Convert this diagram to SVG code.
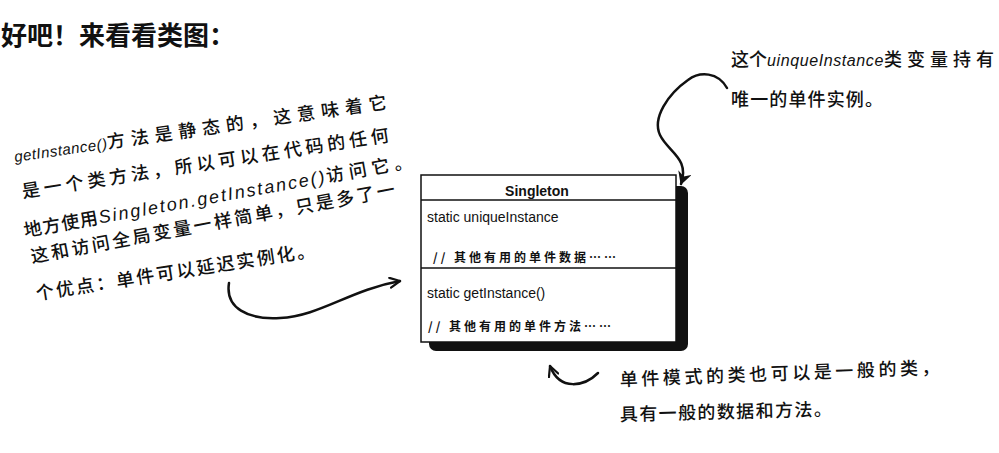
<svg xmlns="http://www.w3.org/2000/svg" width="999" height="453" viewBox="0 0 999 453">
<style>
.title{font-family:"Noto Sans CJK SC","Liberation Sans",sans-serif;font-size:26px;font-weight:700;fill:#111}
.hand{font-family:"Noto Sans CJK SC","Liberation Sans",sans-serif;font-size:18px;font-weight:500;fill:#111}
.lat{font-family:"Liberation Sans","Noto Sans CJK SC",sans-serif;font-style:italic}
.uml{font-family:"Liberation Sans","Noto Sans CJK SC",sans-serif;font-size:14px;fill:#111}
.umlb{font-family:"Liberation Sans",sans-serif;font-size:14px;font-weight:700;fill:#111}
.cmt{font-family:"Noto Sans CJK SC","Liberation Sans",sans-serif;font-size:12px;font-weight:700;fill:#111}
.conn{fill:none;stroke:#111;stroke-width:2.5;stroke-linecap:round}
</style>
<defs>
<marker id="open" viewBox="0 0 12 12" refX="11" refY="6" markerWidth="12" markerHeight="12" markerUnits="userSpaceOnUse" orient="auto">
<path d="M1,1 L11,6 L1,11" fill="none" stroke="#111" stroke-width="2.2" stroke-linecap="round" stroke-linejoin="round"/>
</marker>
<marker id="filled" viewBox="0 0 14 14" refX="12" refY="7" markerWidth="14" markerHeight="14" markerUnits="userSpaceOnUse" orient="auto">
<path d="M0,0 L13,7 L0,14 L4,7 Z" fill="#111"/>
</marker>
</defs>
<rect width="999" height="453" fill="#fff"/>
<g id="title"><text class="title" x="1" y="45">好吧！来看看类图：</text></g>

<g id="note-left">
<text class="hand" x="15" y="162" transform="rotate(-8.2 15 162)"><tspan class="lat" font-size="15" letter-spacing="0.5">getInstance()</tspan><tspan letter-spacing="6">方法是静态的，这意味着它</tspan></text>
<text class="hand" x="23" y="198" textLength="371" transform="rotate(-8.8 23 198)">是一个类方法，所以可以在代码的任何</text>
<text class="hand" x="25" y="237" transform="rotate(-10.2 25 237)"><tspan letter-spacing="1">地方使用</tspan><tspan class="lat" font-size="18" letter-spacing="2">Singleton.getInstance()</tspan><tspan letter-spacing="5">访问它。</tspan></text>
<text class="hand" x="32" y="263" textLength="370" transform="rotate(-10.5 32 263)">这和访问全局变量一样简单，只是多了一</text>
<text class="hand" x="37" y="300" textLength="282" transform="rotate(-8.9 37 300)">个优点：单件可以延迟实例化。</text>
</g>

<g id="note-top">
<text class="hand" x="731" y="66" font-size="17">这个<tspan class="lat" font-size="16" letter-spacing="0.6">uinqueInstance</tspan><tspan letter-spacing="5">类变量持有</tspan></text>
<text class="hand" x="731" y="106" textLength="152" font-size="17">唯一的单件实例。</text>
</g>

<g id="note-bottom">
<text class="hand" x="620" y="386" textLength="320" transform="rotate(-2.2 620 386)">单件模式的类也可以是一般的类，</text>
<text class="hand" x="620" y="421" textLength="212" transform="rotate(-1.5 620 421)">具有一般的数据和方法。</text>
</g>

<g id="singleton">
<rect x="429" y="186" width="259" height="165" rx="7" fill="#111"/>
<rect x="421" y="175" width="255" height="167" fill="#fff" stroke="#111" stroke-width="1.5"/>
<line x1="421" y1="200" x2="676" y2="200" stroke="#111" stroke-width="1.5"/>
<line x1="421" y1="268" x2="676" y2="268" stroke="#111" stroke-width="1.5"/>
<text class="umlb" x="537" y="196" text-anchor="middle">Singleton</text>
<text class="uml" x="427" y="222">static uniqueInstance</text>
<text class="cmt" x="433" y="262" letter-spacing="3">// 其他有用的单件数据……</text>
<text class="uml" x="427" y="298">static getInstance()</text>
<text class="cmt" x="428" y="331" letter-spacing="3">// 其他有用的单件方法……</text>
</g>

<g id="connectors">
<path class="conn" d="M727,88 C718,72 700,71 688,80 C668,94 652,118 660,135 C668,152 690,158 681,184" marker-end="url(#filled)"/>
<path class="conn" d="M229,283 C225,308 248,320 280,318 C320,316 350,290 400,281" marker-end="url(#open)"/>
<path class="conn" d="M598,373 C585,386 560,392 550,366" marker-end="url(#open)"/>
</g>
</svg>
